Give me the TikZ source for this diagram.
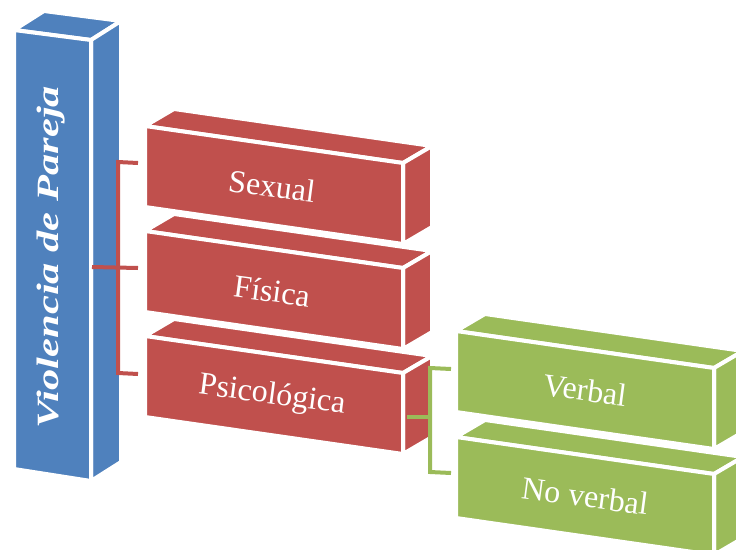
\documentclass[tikz,border=0pt]{standalone}
\usepackage{fontspec}
\setmainfont{Liberation Serif}
\usepackage{graphicx}
\definecolor{cblue}{HTML}{4F81BD}
\definecolor{cred}{HTML}{C0504D}
\definecolor{cgreen}{HTML}{9BBB59}
\tikzset{
  face/.style={draw=white,line width=4pt,line join=round},
  lbl/.style={text=white,inner sep=0pt,font=\fontsize{32}{38}\selectfont,rotate=-7.5},
  rline/.style={draw=cred,line width=4pt,line join=miter},
  gline/.style={draw=cgreen,line width=4pt,line join=miter}
}
\newcommand\cubebox[3]{%
  \begin{scope}[shift={(#1,#2)}]
    \filldraw[face,fill=#3] (0,0) -- (29,-17) -- (287,20) -- (258,37) -- cycle;
    \filldraw[face,fill=#3] (258,37) -- (287,20) -- (287,101) -- (258,118) -- cycle;
    \filldraw[face,fill=#3] (0,0) -- (258,37) -- (258,118) -- (0,81) -- cycle;
  \end{scope}}
\begin{document}
\begin{tikzpicture}[x=1pt,y=-1pt]
\useasboundingbox (0,0) rectangle (736,549);
\clip (0,0) rectangle (736,549);
% root box
\filldraw[face,fill=cblue] (14,30) -- (44,11) -- (121,21) -- (91,40) -- cycle;
\filldraw[face,fill=cblue] (91,40) -- (121,21) -- (121,462) -- (91,481) -- cycle;
\filldraw[face,fill=cblue] (14,30) -- (91,40) -- (91,481) -- (14,469) -- cycle;
\node[text=white,inner sep=0pt,rotate=90,font=\fontsize{31}{36}\selectfont\bfseries\itshape] (root) at (51,257) {\scalebox{1.37}[1]{Violencia de Pareja}};
% red boxes
\cubebox{145}{336}{cred}
\cubebox{145}{231}{cred}
\cubebox{145}{126}{cred}
\node[lbl] (sexual) at (272,186) {Sexual};
\node[lbl] (fisica) at (272,291) {Física};
\node[lbl] (psico) at (272,396) {Psicológica};
% green boxes
\cubebox{456}{437}{cgreen}
\cubebox{456}{331}{cgreen}
\node[lbl] (verbal) at (585,390) {Verbal};
\node[lbl] (noverbal) at (585,496) {No verbal};
% red connectors
\coordinate (rootR) at (92,267);
\coordinate (fisIn) at (138,268);
\coordinate (sexIn) at (138,163);
\coordinate (rTop) at (118,162);
\coordinate (rBot) at (118,373);
\coordinate (psiIn) at (138,374);
\draw[rline] (sexIn) -- (rTop) -- (rBot) -- (psiIn);
\draw[rline] (rootR) -- (fisIn);
% green connectors
\coordinate (psiR) at (407,417);
\coordinate (gMid) at (430,417);
\coordinate (verIn) at (451,369);
\coordinate (gTop) at (430,368);
\coordinate (gBot) at (430,472);
\coordinate (noIn) at (451,473);
\draw[gline] (verIn) -- (gTop) -- (gBot) -- (noIn);
\draw[gline] (psiR) -- (gMid);
\end{tikzpicture}
\end{document}
